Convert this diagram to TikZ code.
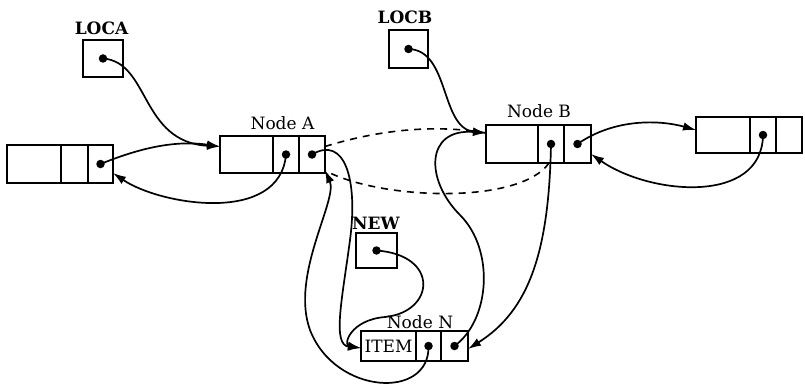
\documentclass[tikz,border=0pt]{standalone}
\usepackage{fontspec}
\setmainfont{DejaVu Serif}
\usetikzlibrary{arrows.meta, positioning}

\begin{document}
\begin{tikzpicture}[x=1pt, y=-1pt,
    cell/.style={draw, line width=1.6pt, inner sep=0pt, outer sep=0pt},
    ptrdot/.style={circle, fill, inner sep=0pt, minimum size=8.5pt},
    ptr/.style={line width=1.7pt, -{Latex[length=13pt, width=8.5pt]}},
    oldlink/.style={line width=1.6pt, dash pattern=on 7pt off 6pt},
    tag/.style={inner sep=0pt, font=\fontsize{17}{20}\selectfont},
    vartag/.style={inner sep=0pt, font=\fontsize{17}{20}\selectfont\bfseries}]
  \useasboundingbox (0,0) rectangle (805,385);
  % Left neighbour
  \node[cell, minimum width=54pt, minimum height=38pt] (L1) at (34,164) {};
  \node[cell, minimum width=27pt, minimum height=38pt, right=0pt of L1] (L2) {};
  \node[cell, minimum width=25pt, minimum height=38pt, right=0pt of L2] (L3) {};
  % Node A
  \node[cell, minimum width=53pt, minimum height=37pt] (A1) at (246.5,154.5) {};
  \node[cell, minimum width=26pt, minimum height=37pt, right=0pt of A1] (A2) {};
  \node[cell, minimum width=26pt, minimum height=37pt, right=0pt of A2] (A3) {};
  % Node B
  \node[cell, minimum width=52pt, minimum height=38pt] (B1) at (512,144) {};
  \node[cell, minimum width=26pt, minimum height=38pt, right=0pt of B1] (B2) {};
  \node[cell, minimum width=27pt, minimum height=38pt, right=0pt of B2] (B3) {};
  % Right neighbour
  \node[cell, minimum width=54pt, minimum height=36pt] (R1) at (723,135) {};
  \node[cell, minimum width=26pt, minimum height=36pt, right=0pt of R1] (R2) {};
  \node[cell, minimum width=26pt, minimum height=36pt, right=0pt of R2] (R3) {};
  % Node N
  \node[cell, tag, minimum width=55pt, minimum height=30pt] (N1) at (388.5,346) {ITEM};
  \node[cell, minimum width=25pt, minimum height=30pt, right=0pt of N1] (N2) {};
  \node[cell, minimum width=27pt, minimum height=30pt, right=0pt of N2] (N3) {};
  % Pointer variables
  \node[cell, minimum width=40pt, minimum height=37pt] (locA) at (103,58.5) {};
  \node[cell, minimum width=39pt, minimum height=38pt] (locB) at (408.5,49) {};
  \node[cell, minimum width=41pt, minimum height=35pt] (new) at (376.5,250.5) {};
  % Labels
  \node[vartag] (tLocA) at (101.5,28) {LOCA};
  \node[vartag] (tLocB) at (405,17) {LOCB};
  \node[vartag] (tNew) at (376,223) {NEW};
  \node[tag] (tA) at (282.5,123) {Node A};
  \node[tag] (tB) at (539,111) {Node B};
  \node[tag] (tN) at (420,322) {Node N};
  % Dots
  \node[ptrdot] (dL3) at (L3) {};
  \node[ptrdot] (dA2) at (A2) {};
  \node[ptrdot] (dA3) at (A3) {};
  \node[ptrdot] (dB2) at (B2) {};
  \node[ptrdot] (dB3) at (B3) {};
  \node[ptrdot] (dR2) at (R2) {};
  \node[ptrdot] (dN2) at (N2) {};
  \node[ptrdot] (dN3) at (N3) {};
  \node[ptrdot] (dLocA) at (locA) {};
  \node[ptrdot] (dLocB) at (locB) {};
  \node[ptrdot] (dNew) at (new) {};
  % Old links
  \draw[oldlink] ([yshift=8pt]A3.east) .. controls (385,128) and (440,125) .. ([yshift=11pt]B1.west);
  \draw[oldlink] ([xshift=-2pt]B2.south) .. controls (520,205) and (380,200) .. ([yshift=-16pt]A3.east);
  % Links around A
  \draw[ptr] (dLocA.center) .. controls (150,62) and (140,142) .. ([yshift=8pt]A1.west);
  \draw[ptr] (dL3.center) .. controls (140,148) and (175,140) .. ([yshift=8pt]A1.west);
  \draw[ptr] (dA2.center) .. controls (280,225) and (160,205) .. ([yshift=-9pt]L3.east);
  % Links around B
  \draw[ptr] (dLocB.center) .. controls (450,50) and (440,128) .. ([yshift=11pt]B1.west);
  \draw[ptr] (dB3.center) .. controls (615,118) and (660,120) .. ([yshift=5pt]R1.west);
  \draw[ptr] (dR2.center) .. controls (762,205) and (650,195) .. ([yshift=-10pt]B3.east);
  % Links to and from N
  \draw[ptr] (dA3.center) .. controls (345,135) and (358,180) .. (350,240)
    .. controls (342,300) and (332,345) .. ([yshift=-2pt]N1.west);
  \draw[ptr] (dNew.center) .. controls (440,255) and (435,312) .. (385,317)
    .. controls (350,320) and (343,345) .. ([yshift=-2pt]N1.west);
  \draw[ptr] (dN2.center) .. controls (430,400) and (335,395) .. (310,330)
    .. controls (290,275) and (338,200) .. ([yshift=3pt]A3.south east);
  \draw[ptr] (dN3.center) .. controls (490,320) and (495,250) .. (460,215)
    .. controls (425,180) and (425,128) .. ([yshift=11pt]B1.west);
  \draw[ptr] (dB2.center) .. controls (549,250) and (530,310) .. ([yshift=-3pt]N3.east);
\end{tikzpicture}
\end{document}
